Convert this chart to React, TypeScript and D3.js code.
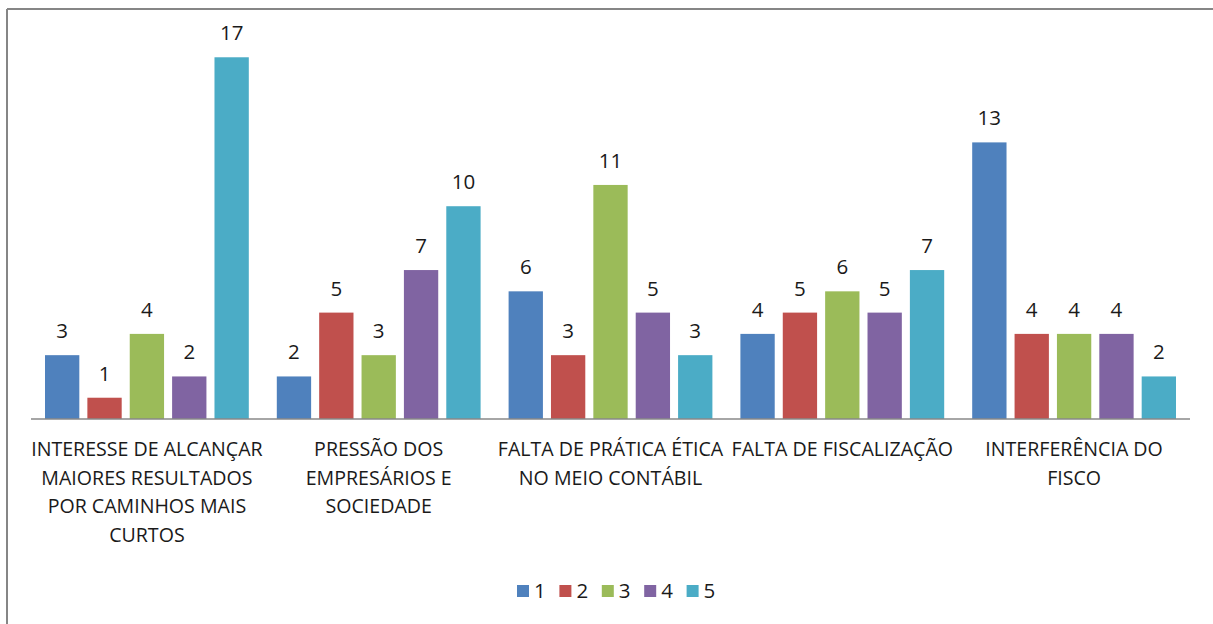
import React from "react";
import * as d3 from "d3";

const categories: string[][] = [
  ["INTERESSE DE ALCANÇAR", "MAIORES RESULTADOS", "POR CAMINHOS MAIS", "CURTOS"],
  ["PRESSÃO DOS", "EMPRESÁRIOS E", "SOCIEDADE"],
  ["FALTA DE PRÁTICA ÉTICA", "NO MEIO CONTÁBIL"],
  ["FALTA DE FISCALIZAÇÃO"],
  ["INTERFERÊNCIA DO", "FISCO"],
];
const seriesNames = ["1", "2", "3", "4", "5"];
const s1 = [3, 2, 6, 4, 13];
const s2 = [1, 5, 3, 5, 4];
const s3 = [4, 3, 11, 6, 4];
const s4 = [2, 7, 5, 5, 4];
const s5 = [17, 10, 3, 7, 2];
const seriesValues = [s1, s2, s3, s4, s5];
const colors = ["#4F81BD", "#C0504D", "#9BBB59", "#8064A2", "#4BACC6"];

const FONT = "'Open Sans', sans-serif";

export default function App() {
  const W = 1213, H = 624;
  const x0 = d3.scaleBand<number>().domain(d3.range(categories.length)).range([31, 1190]).paddingInner(0).paddingOuter(0);
  const x1 = d3.scaleBand<number>().domain(d3.range(seriesNames.length)).range([14, x0.bandwidth() - 14]).paddingInner(0.19).paddingOuter(0);
  const y = d3.scaleLinear().domain([0, 18]).range([419, 36]);

  const legendX = d3.scaleBand<number>().domain(d3.range(seriesNames.length)).range([517, 729]);

  return (
    <svg width={W} height={H} style={{ position: "absolute", left: 0, top: 0 }}>
      <rect x={0} y={0} width={W} height={H} fill="#fff" />
      <line x1={7} y1={9} x2={W} y2={9} stroke="#868686" strokeWidth={2} />
      <line x1={7} y1={9} x2={7} y2={H} stroke="#868686" strokeWidth={2} />
      {categories.map((_, ci) => (
        <g key={ci} transform={`translate(${x0(ci)},0)`}>
          {seriesValues.map((vals, si) => (
            <g key={si}>
              <rect x={x1(si)} y={y(vals[ci])} width={x1.bandwidth()} height={y(0) - y(vals[ci])} fill={colors[si]} />
              <text x={(x1(si) as number) + x1.bandwidth() / 2} y={y(vals[ci]) - 17} textAnchor="middle" fontFamily={FONT} fontSize={20.5} fill="#1a1a1a">{vals[ci]}</text>
            </g>
          ))}
        </g>
      ))}
      <line x1={31} y1={419} x2={1190} y2={419} stroke="#888" strokeWidth={1.5} />
      {categories.map((lines, ci) => (
        <text key={ci} x={(x0(ci) as number) + x0.bandwidth() / 2} y={456} textAnchor="middle" fontFamily={FONT} fontSize={19.6} fill="#1a1a1a">
          {lines.map((l, li) => (
            <tspan key={li} x={(x0(ci) as number) + x0.bandwidth() / 2} y={456 + li * 28.5}>{l}</tspan>
          ))}
        </text>
      ))}
      {seriesNames.map((n, si) => (
        <g key={n} transform={`translate(${legendX(si)},0)`}>
          <rect x={0} y={585} width={12} height={12} fill={colors[si]} />
          <text x={17} y={598} fontFamily={FONT} fontSize={20.5} fill="#1a1a1a">{n}</text>
        </g>
      ))}
    </svg>
  );
}
